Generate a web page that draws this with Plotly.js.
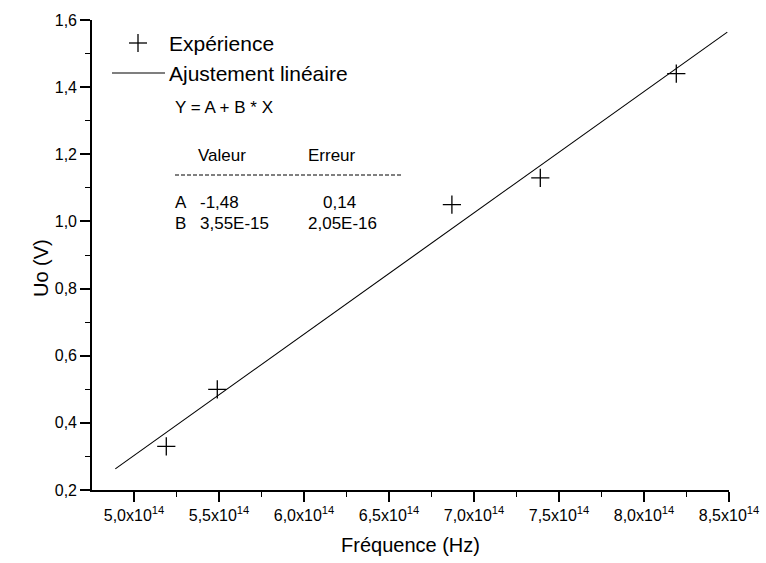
<!DOCTYPE html>
<html>
<head>
<meta charset="utf-8">
<script src="https://cdn.plot.ly/plotly-3.0.1.min.js"></script>
<style>html,body{margin:0;padding:0;background:#fff;}#chart{width:766px;height:563px;}</style>
</head>
<body>
<div id="chart"></div>
<script>
// Data
var freqExp = [5.19e14, 5.49e14, 6.87e14, 7.39e14, 8.19e14];
var uoExp = [0.33, 0.50, 1.05, 1.13, 1.44];
var freqFit = [4.89e14, 8.49e14];
var uoFit = [0.263, 1.564];
var xTickVals = [5.0e14, 5.5e14, 6.0e14, 6.5e14, 7.0e14, 7.5e14, 8.0e14, 8.5e14];
var xTickText = ['5,0x10<sup>14</sup>', '5,5x10<sup>14</sup>', '6,0x10<sup>14</sup>', '6,5x10<sup>14</sup>',
                 '7,0x10<sup>14</sup>', '7,5x10<sup>14</sup>', '8,0x10<sup>14</sup>', '8,5x10<sup>14</sup>'];
var yTickVals = [0.2, 0.4, 0.6, 0.8, 1.0, 1.2, 1.4, 1.6];
var yTickText = ['0,2', '0,4', '0,6', '0,8', '1,0', '1,2', '1,4', '1,6'];
var legendLabels = ['Expérience', 'Ajustement linéaire'];
var fitEquation = 'Y = A + B * X';
var tableHeader = ['Valeur', 'Erreur'];
var paramNames = ['A', 'B'];
var paramValues = ['-1,48', '3,55E-15'];
var paramErrors = ['0,14', '2,05E-16'];

var FONT = 'Liberation Sans, Arial, Helvetica, sans-serif';
var L = 92, R = 37, T = 20, B = 73, W = 766, H = 563;
function px(x) { return (x - L) / (W - L - R); }
function py(y) { return (H - B - y) / (H - T - B); }

var traces = [
  {x: freqFit, y: uoFit, mode: 'lines', type: 'scatter', name: legendLabels[1],
   line: {color: '#000', width: 1.1}, showlegend: false, hoverinfo: 'skip'},
  {x: freqExp, y: uoExp, mode: 'markers', type: 'scatter', name: legendLabels[0],
   marker: {symbol: 'cross-thin-open', size: 13, color: '#000', line: {color: '#000', width: 1.3}},
   showlegend: false}
];

function txt(text, x, y, size) {
  return {text: text, x: px(x), y: py(y), xref: 'paper', yref: 'paper', xanchor: 'left', yanchor: 'middle',
          showarrow: false, font: {family: FONT, size: size, color: '#000'}};
}

var annotations = [
  txt(legendLabels[0], 167, 43, 21),
  txt(legendLabels[1], 167, 73, 21),
  txt(fitEquation, 173, 107, 17),
  txt(tableHeader[0], 196, 155, 17),
  txt(tableHeader[1], 306, 155, 17),
  txt(paramNames[0], 173, 203, 17),
  txt(paramValues[0], 198, 203, 17),
  txt(paramErrors[0], 321, 203, 17),
  txt(paramNames[1], 173, 224, 17),
  txt(paramValues[1], 198, 224, 17),
  txt(paramErrors[1], 306, 224, 17),
  {text: 'Uo (V)', x: px(41), y: py(268), xref: 'paper', yref: 'paper', xanchor: 'center', yanchor: 'middle',
   textangle: -90, showarrow: false, font: {family: FONT, size: 20, color: '#000'}}
];

var shapes = [
  // legend line sample
  {type: 'line', xref: 'paper', yref: 'paper', x0: px(112), x1: px(165), y0: py(73), y1: py(73),
   line: {color: '#000', width: 1.1}},
  // legend "+" sample
  {type: 'line', xref: 'paper', yref: 'paper', x0: px(129), x1: px(147), y0: py(43), y1: py(43),
   line: {color: '#000', width: 1.3}},
  {type: 'line', xref: 'paper', yref: 'paper', x0: px(138), x1: px(138), y0: py(34), y1: py(52),
   line: {color: '#000', width: 1.3}},
  // table dashed separator
  {type: 'line', xref: 'paper', yref: 'paper', x0: px(175), x1: px(402), y0: py(175), y1: py(175),
   line: {color: '#000', width: 1, dash: '4px,2px'}}
];

var layout = {
  width: W, height: H,
  margin: {l: L, r: R, t: T, b: B, pad: 0},
  paper_bgcolor: '#fff', plot_bgcolor: '#fff',
  font: {family: FONT, color: '#000', size: 16},
  showlegend: false,
  xaxis: {
    range: [4.753e14, 8.5e14],
    tickmode: 'array', tickvals: xTickVals, ticktext: xTickText,
    ticks: 'outside', ticklen: 10, tickwidth: 1.5, tickcolor: '#000',
    showline: true, linecolor: '#000', linewidth: 1.6, mirror: false,
    showgrid: false, zeroline: false,
    tickfont: {family: FONT, size: 16, color: '#000'},
    minor: {tickmode: 'linear', tick0: 5.0e14, dtick: 2.5e13, ticks: 'outside', ticklen: 5, tickwidth: 1.2, tickcolor: '#000', showgrid: false},
    title: {text: 'Fréquence (Hz)', font: {family: FONT, size: 20, color: '#000'}, standoff: 15}
  },
  yaxis: {
    range: [0.2, 1.6],
    tickmode: 'array', tickvals: yTickVals, ticktext: yTickText,
    ticks: 'outside', ticklen: 10, tickwidth: 1.5, tickcolor: '#000',
    showline: true, linecolor: '#000', linewidth: 1.6, mirror: false,
    showgrid: false, zeroline: false,
    tickfont: {family: FONT, size: 16, color: '#000'},
    minor: {tickmode: 'linear', tick0: 0.1, dtick: 0.1, ticks: 'outside', ticklen: 5, tickwidth: 1.2, tickcolor: '#000', showgrid: false}
  },
  annotations: annotations,
  shapes: shapes
};

Plotly.newPlot('chart', traces, layout, {displayModeBar: false});
</script>
</body>
</html>
